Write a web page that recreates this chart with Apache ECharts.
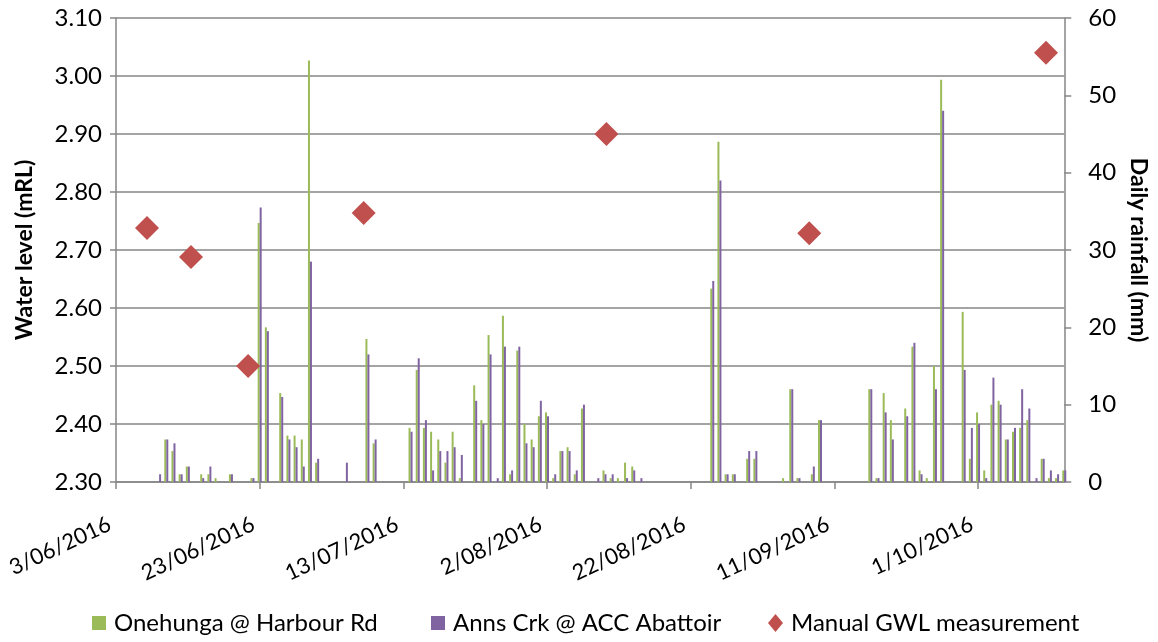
<!DOCTYPE html>
<html>
<head>
<meta charset="utf-8">
<script src="https://cdn.jsdelivr.net/npm/echarts/dist/echarts.min.js"></script>
<style>
  html, body { margin: 0; padding: 0; background: #ffffff; }
  #chart { width: 1158px; height: 642px; }
</style>
</head>
<body>
<div id="chart"></div>
<script>
// Day 0 of the time axis is 3 June 2016; the axis runs 132 days to 13 October 2016.
const START_UTC = Date.UTC(2016, 5, 3);
const AXIS_DAYS = 132;

// Date tick labels, one every 20 days from the start.
const xTickDays = [0, 20, 40, 60, 80, 100, 120];
const xTickLabels = ['3/06/2016', '23/06/2016', '13/07/2016', '2/08/2016',
                     '22/08/2016', '11/09/2016', '1/10/2016'];

// Daily rainfall (mm), index = days since 3/06/2016.
const onehungaRain = [
  0, 0, 0, 0, 0, 0, 0, 5.5, 4, 1,
  2, 0, 1, 1, 0.5, 0, 1, 0, 0, 0.5,
  33.5, 20, 0, 11.5, 6, 6, 5.5, 54.5, 2.5, 0,
  0, 0, 0, 0, 0, 18.5, 5, 0, 0, 0,
  0, 7, 14.5, 7, 6.5, 5.5, 2.5, 6.5, 0.5, 0,
  12.5, 8, 19, 0, 21.5, 1, 17, 7.5, 5.5, 8.5,
  9, 0.5, 4, 4.5, 1, 9.5, 0, 0, 1.5, 0.5,
  0.5, 2.5, 2, 0, 0, 0, 0, 0, 0, 0,
  0, 0, 0, 25, 44, 1, 1, 0, 3, 3,
  0, 0, 0, 0.5, 12, 0.5, 0, 1, 8, 0,
  0, 0, 0, 0, 0, 12, 0.5, 11.5, 8, 0,
  9.5, 17.5, 1.5, 0.5, 15, 52, 0, 0, 22, 3,
  9, 1.5, 10, 10.5, 5.5, 6.5, 7, 8, 0, 3,
  0.5, 0.5, 1.5
];
const annsCrkRain = [
  0, 0, 0, 0, 0, 0, 1, 5.5, 5, 1,
  2, 0, 0.5, 2, 0, 0, 1, 0, 0, 0.5,
  35.5, 19.5, 0, 11, 5.5, 4.5, 2, 28.5, 3, 0,
  0, 0, 2.5, 0, 0, 16.5, 5.5, 0, 0, 0,
  0, 6.5, 16, 8, 1.5, 4, 4, 4.5, 3.5, 0,
  10.5, 7.5, 16.5, 0.5, 17.5, 1.5, 17.5, 5, 4.5, 10.5,
  8.5, 1, 4, 4, 1.5, 10, 0, 0.5, 1, 1,
  0, 0.5, 1.5, 0.5, 0, 0, 0, 0, 0, 0,
  0, 0, 0, 26, 39, 1, 1, 0, 4, 4,
  0, 0, 0, 0, 12, 0.5, 0, 2, 8, 0,
  0, 0, 0, 0, 0, 12, 0.5, 9, 5.5, 0,
  8.5, 18, 1, 0, 12, 48, 0, 0, 14.5, 7,
  7.5, 0.5, 13.5, 10, 5.5, 7, 12, 9.5, 0.5, 3,
  1.5, 1, 1.5
];

// Manual groundwater level readings: date-time and level (mRL).
const gwlTimes = ['2016-06-07 07:30', '2016-06-13 10:30', '2016-06-21 09:30',
                  '2016-07-07 11:30', '2016-08-10 06:30', '2016-09-07 12:00',
                  '2016-10-10 11:00'];
const gwlLevels = [2.738, 2.688, 2.50, 2.764, 2.90, 2.729, 3.04];

function dayOffset(stamp) {
  const [d, t] = stamp.split(' ');
  const [y, mo, da] = d.split('-').map(Number);
  const [h, mi] = t.split(':').map(Number);
  return (Date.UTC(y, mo - 1, da, h, mi) - START_UTC) / 86400000;
}

const FONT = 'Lato';
const GREY = '#868686';
const lineStyle = { color: GREY, width: 1.5 };

const chart = echarts.init(document.getElementById('chart'), null, { renderer: 'canvas' });

const legendBase = {
  orient: 'horizontal',
  top: 606,
  itemWidth: 14,
  itemHeight: 14,
  textStyle: { fontFamily: FONT, fontSize: 24, color: '#000', padding: [0, 0, 0, 3] }
};

chart.setOption({
  animation: false,
  backgroundColor: '#ffffff',
  grid: { left: 116, top: 18, width: 950, height: 464, containLabel: false },
  legend: [
    Object.assign({}, legendBase, { left: 87, data: [{ name: 'Onehunga @ Harbour Rd', icon: 'rect' }] }),
    Object.assign({}, legendBase, { left: 426, data: [{ name: 'Anns Crk @ ACC Abattoir', icon: 'rect' }] }),
    Object.assign({}, legendBase, { left: 763, itemWidth: 15, itemHeight: 18,
      data: [{ name: 'Manual GWL measurement', icon: 'diamond' }] })
  ],
  xAxis: {
    type: 'value',
    min: 0,
    max: AXIS_DAYS,
    interval: 20,
    axisLine: { show: true, lineStyle: lineStyle },
    axisTick: { show: true, length: 7, lineStyle: lineStyle, customValues: xTickDays },
    splitLine: { show: false },
    axisLabel: {
      customValues: xTickDays,
      rotate: 25,
      margin: 38,
      padding: [0, 7, 0, 0],
      fontFamily: FONT,
      fontSize: 22,
      color: '#000',
      formatter: function (v) {
        const i = xTickDays.indexOf(Math.round(v));
        return i >= 0 ? xTickLabels[i] : '';
      }
    }
  },
  yAxis: [
    {
      type: 'value',
      position: 'left',
      min: 2.3,
      max: 3.1,
      interval: 0.1,
      name: 'Water level (mRL)',
      nameLocation: 'middle',
      nameGap: 80,
      nameTextStyle: { fontFamily: FONT, fontWeight: 'bold', fontSize: 23, color: '#000' },
      axisLine: { show: true, lineStyle: lineStyle },
      axisTick: { show: true, length: 6, lineStyle: lineStyle },
      splitLine: { show: true, lineStyle: lineStyle },
      axisLabel: {
        margin: 14,
        fontFamily: FONT,
        fontSize: 24,
        color: '#000',
        formatter: function (v) { return v.toFixed(2); }
      }
    },
    {
      type: 'value',
      position: 'right',
      min: 0,
      max: 60,
      interval: 10,
      name: 'Daily rainfall (mm)',
      nameLocation: 'middle',
      nameRotate: -90,
      nameGap: 58,
      nameTextStyle: { fontFamily: FONT, fontWeight: 'bold', fontSize: 23, color: '#000' },
      axisLine: { show: true, lineStyle: lineStyle },
      axisTick: { show: true, length: 7, lineStyle: lineStyle },
      splitLine: { show: false },
      axisLabel: { margin: 24, fontFamily: FONT, fontSize: 24, color: '#000' }
    }
  ],
  series: [
    {
      name: 'Onehunga @ Harbour Rd',
      type: 'bar',
      yAxisIndex: 1,
      barWidth: 2,
      barGap: '0%',
      clip: false,
      itemStyle: { color: '#9BBB59' },
      data: onehungaRain.map(function (v, i) { return [i, v]; })
    },
    {
      name: 'Anns Crk @ ACC Abattoir',
      type: 'bar',
      yAxisIndex: 1,
      barWidth: 2,
      barGap: '0%',
      clip: false,
      itemStyle: { color: '#8064A2' },
      data: annsCrkRain.map(function (v, i) { return [i, v]; })
    },
    {
      name: 'Manual GWL measurement',
      type: 'scatter',
      yAxisIndex: 0,
      symbol: 'diamond',
      symbolSize: 24,
      itemStyle: { color: '#C0504D', opacity: 1 },
      data: gwlTimes.map(function (t, i) { return [dayOffset(t), gwlLevels[i]]; })
    }
  ]
});
</script>
</body>
</html>
